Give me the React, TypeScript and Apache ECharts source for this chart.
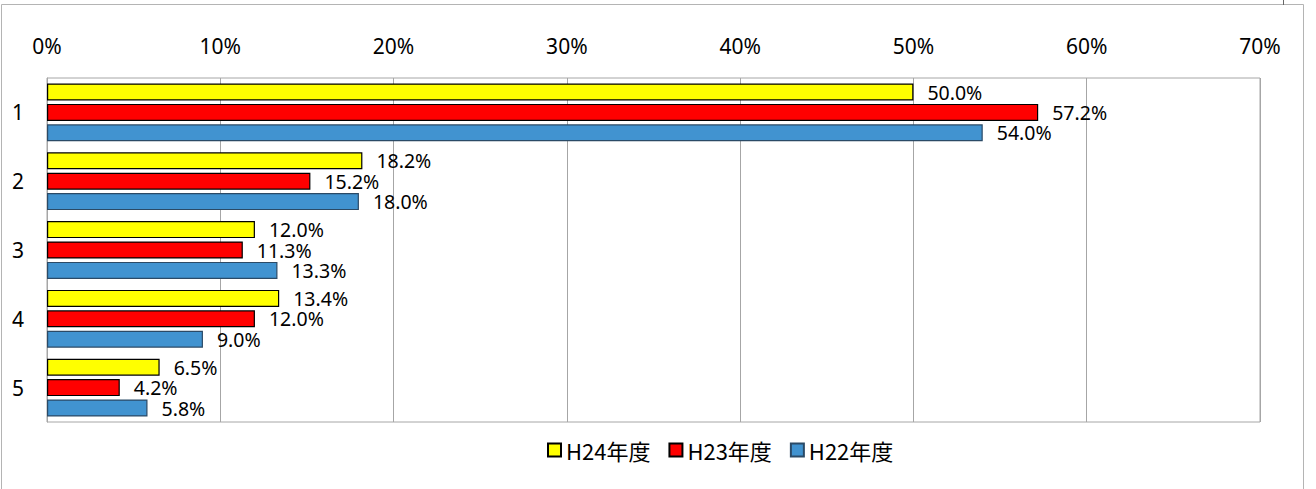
import React, { useEffect, useRef } from "react";
import * as echarts from "echarts";

const categories = ["1", "2", "3", "4", "5"];
const seriesNames = ["H24年度", "H23年度", "H22年度"];
const h24 = [50.0, 18.2, 12.0, 13.4, 6.5];
const h23 = [57.2, 15.2, 11.3, 12.0, 4.2];
const h22 = [54.0, 18.0, 13.3, 9.0, 5.8];
const xTicks = { min: 0, max: 70, interval: 10 };

const FONT = "'Noto Sans', 'Noto Sans CJK JP', sans-serif";

export default function App() {
  const ref = useRef<HTMLDivElement>(null);
  useEffect(() => {
    document.body.style.margin = "0";
    const chart = echarts.init(ref.current!, null, { renderer: "svg" });
    const mk = (name: string, data: number[], color: string, border: string) => ({
      name,
      type: "bar",
      data,
      barWidth: 17,
      barGap: "20%",
      itemStyle: { color, borderColor: border, borderWidth: 1.2 },
      label: {
        show: true,
        position: "right",
        distance: 14,
        color: "#000",
        fontSize: 19.5,
        lineHeight: 19,
        fontFamily: FONT,
        formatter: (p: any) => p.value.toFixed(1) + "%",
      },
    });
    chart.setOption({
      animation: false,
      backgroundColor: "#fff",
      textStyle: { fontFamily: FONT },
      grid: {
        left: 47,
        right: 56,
        top: 78,
        bottom: 67,
        show: true,
        borderColor: "#a6a6a6",
        borderWidth: 1,
      },
      legend: {
        bottom: 23,
        left: 542,
        icon: "rect",
        itemWidth: 13,
        itemHeight: 13,
        itemGap: 18,
        itemTextGap: 6,
        textStyle: { fontSize: 22, color: "#000", fontFamily: "'Noto Sans CJK JP', sans-serif" },
        data: seriesNames,
      },
      xAxis: {
        type: "value",
        position: "top",
        min: xTicks.min,
        max: xTicks.max,
        interval: xTicks.interval,
        axisLine: { show: false },
        axisTick: { show: false },
        axisLabel: { formatter: "{value}%", fontSize: 21, color: "#000", margin: 22, fontFamily: FONT },
        splitLine: { show: true, lineStyle: { color: "#a6a6a6", width: 1 } },
      },
      yAxis: {
        type: "category",
        data: categories,
        inverse: true,
        axisLine: { show: true, lineStyle: { color: "#a6a6a6" } },
        axisTick: { show: false },
        axisLabel: { fontSize: 21, color: "#000", margin: 23, fontFamily: FONT },
        splitLine: { show: false },
      },
      series: [
        mk(seriesNames[0], h24, "#ffff00", "#000"),
        mk(seriesNames[1], h23, "#ff0000", "#000"),
        mk(seriesNames[2], h22, "#4193d0", "#2b4a66"),
      ],
      graphic: [
        {
          type: "rect",
          shape: { x: 1.5, y: 4.5, width: 1302, height: 520 },
          style: { fill: "none", stroke: "#b4b4b4", lineWidth: 1 },
          silent: true,
        },
        {
          type: "line",
          shape: { x1: 1283.5, y1: 0, x2: 1283.5, y2: 5 },
          style: { stroke: "#666", lineWidth: 1 },
          silent: true,
        },
      ],
    });
    return () => chart.dispose();
  }, []);
  return <div ref={ref} style={{ width: 1316, height: 489 }} />;
}
